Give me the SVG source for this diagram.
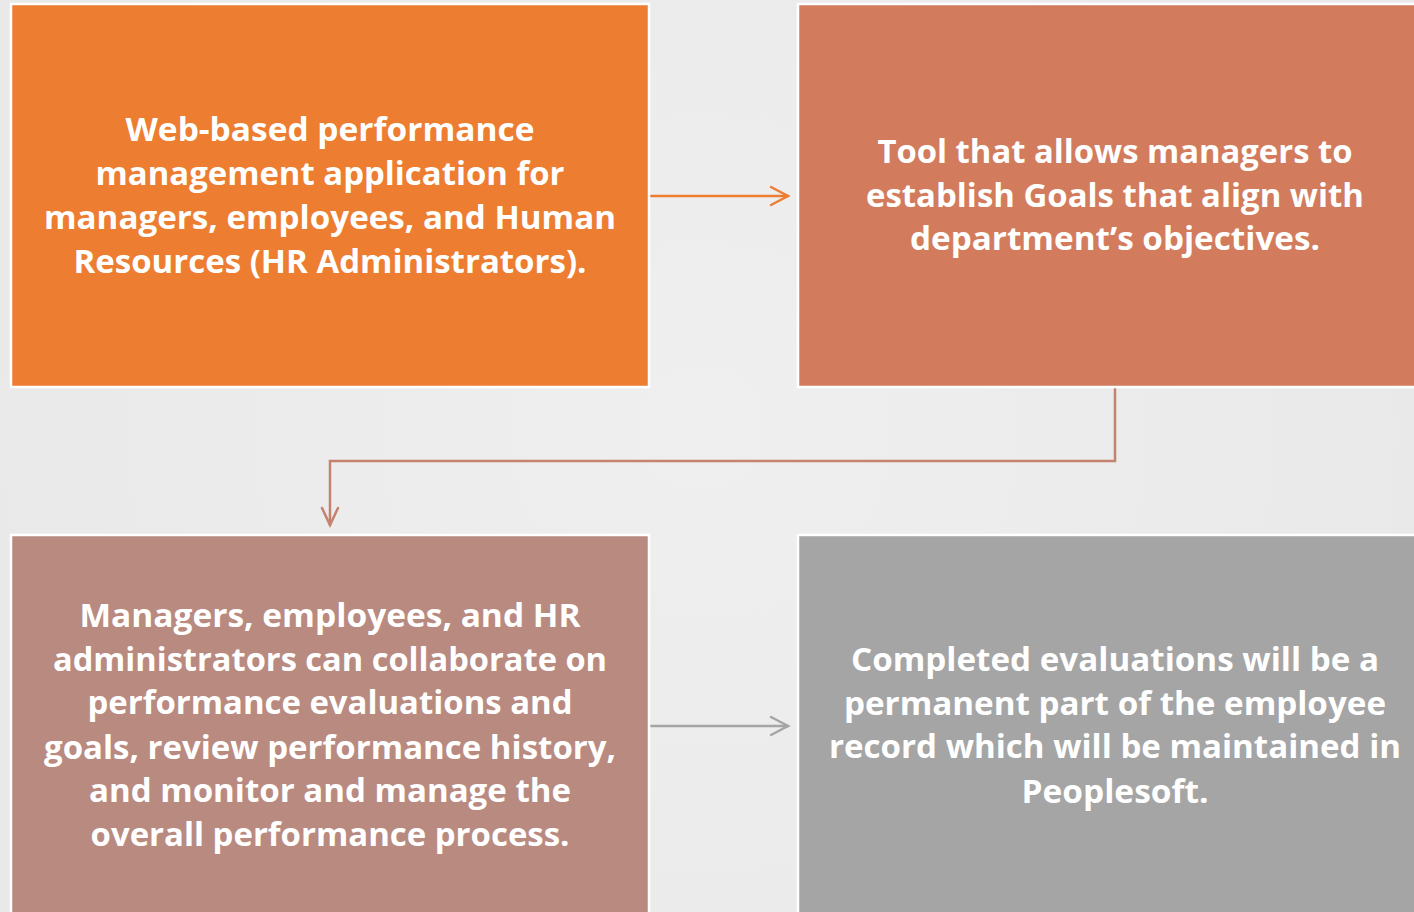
<svg xmlns="http://www.w3.org/2000/svg" width="1414" height="912" viewBox="0 0 1414 912">
<style>
.box{stroke:#FFFFFF;stroke-width:2.5}
.t{font-family:"Open Sans","Liberation Sans",sans-serif;font-weight:700;font-size:33px;fill:#FFFFFF;text-anchor:middle}
.c{fill:none;stroke-width:2.5;stroke-linecap:round;stroke-linejoin:miter}
</style>
<defs>
<radialGradient id="bg" cx="700" cy="430" r="760" gradientUnits="userSpaceOnUse">
<stop offset="0" stop-color="#EFEFEF"/>
<stop offset="1" stop-color="#E9E9E9"/>
</radialGradient>
</defs>
<rect x="0" y="0" width="1414" height="912" fill="url(#bg)"/>
<g id="connectors">
<g id="c1">
<line class="c" x1="651" y1="196" x2="788" y2="196" stroke="#ED7D31"/>
<polyline class="c" points="771,187 788,196 771,205" stroke="#ED7D31"/>
</g>
<g id="c2">
<polyline class="c" points="1115,389 1115,461 330,461 330,525" stroke="#C4826F"/>
<polyline class="c" points="322,508 330,525 338,508" stroke="#C4826F"/>
</g>
<g id="c3">
<line class="c" x1="651" y1="726" x2="788" y2="726" stroke="#A5A5A5"/>
<polyline class="c" points="771,717 788,726 771,735" stroke="#A5A5A5"/>
</g>
</g>
<g id="node1">
<rect class="box" x="11" y="4" width="638" height="383" fill="#ED7D31"/>
<text class="t" x="330" y="141" textLength="409" lengthAdjust="spacingAndGlyphs">Web-based performance</text>
<text class="t" x="330" y="185" textLength="469" lengthAdjust="spacingAndGlyphs">management application for</text>
<text class="t" x="330" y="229" textLength="572" lengthAdjust="spacingAndGlyphs">managers, employees, and Human</text>
<text class="t" x="330" y="273" textLength="513" lengthAdjust="spacingAndGlyphs">Resources (HR Administrators).</text>
</g>
<g id="node2">
<rect class="box" x="798" y="4" width="630" height="383" fill="#D27C5D"/>
<text class="t" x="1115" y="163" textLength="475" lengthAdjust="spacingAndGlyphs">Tool that allows managers to</text>
<text class="t" x="1115" y="207" textLength="498" lengthAdjust="spacingAndGlyphs">establish Goals that align with</text>
<text class="t" x="1115" y="250" textLength="410" lengthAdjust="spacingAndGlyphs">department’s objectives.</text>
</g>
<g id="node3">
<rect class="box" x="11" y="535" width="638" height="390" fill="#B98A80"/>
<text class="t" x="330" y="627" textLength="501" lengthAdjust="spacingAndGlyphs">Managers, employees, and HR</text>
<text class="t" x="330" y="671" textLength="554" lengthAdjust="spacingAndGlyphs">administrators can collaborate on</text>
<text class="t" x="330" y="714" textLength="485" lengthAdjust="spacingAndGlyphs">performance evaluations and</text>
<text class="t" x="330" y="759" textLength="572" lengthAdjust="spacingAndGlyphs">goals, review performance history,</text>
<text class="t" x="330" y="802" textLength="482" lengthAdjust="spacingAndGlyphs">and monitor and manage the</text>
<text class="t" x="330" y="846" textLength="479" lengthAdjust="spacingAndGlyphs">overall performance process.</text>
</g>
<g id="node4">
<rect class="box" x="798" y="535" width="630" height="390" fill="#A5A5A5"/>
<text class="t" x="1115" y="671" textLength="528" lengthAdjust="spacingAndGlyphs">Completed evaluations will be a</text>
<text class="t" x="1115" y="715" textLength="542" lengthAdjust="spacingAndGlyphs">permanent part of the employee</text>
<text class="t" x="1115" y="758" textLength="572" lengthAdjust="spacingAndGlyphs">record which will be maintained in</text>
<text class="t" x="1115" y="803" textLength="187" lengthAdjust="spacingAndGlyphs">Peoplesoft.</text>
</g>
</svg>
